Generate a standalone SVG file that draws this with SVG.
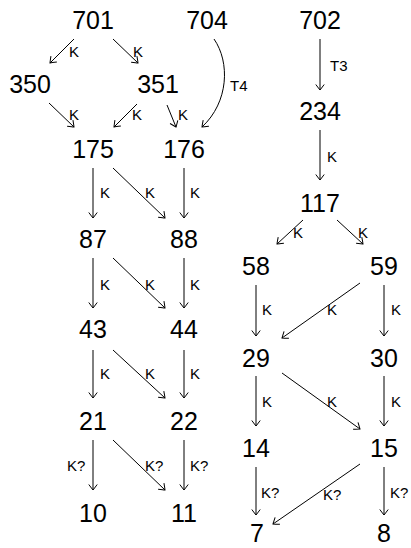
<svg xmlns="http://www.w3.org/2000/svg" width="411" height="548" viewBox="0 0 411 548">
<defs>
<marker id="ah" markerWidth="12" markerHeight="12" refX="0" refY="0" viewBox="-7 -6 9 12" orient="auto" markerUnits="userSpaceOnUse">
<path d="M-5.5,-4.2 Q-1.2,-1 0,0 Q-1.2,1 -5.5,4.2" fill="none" stroke="#000" stroke-width="1"/>
</marker>
<style>
.n{font-family:"Liberation Sans",Arial,sans-serif;font-size:25px;text-anchor:middle;fill:#000}
.l{font-family:"Liberation Sans",Arial,sans-serif;font-size:15px;fill:#000}
.e{fill:none;stroke:#000;stroke-width:1;marker-end:url(#ah)}
</style>
</defs>
<rect width="411" height="548" fill="#fff"/>
<g id="connectors">
<path class="e" d="M74,39 L50,63"/>
<path class="e" d="M113,39 L138,63"/>
<path class="e" d="M49,103 L74,127"/>
<path class="e" d="M137,104 L114,127"/>
<path class="e" d="M167,105 L176,127"/>
<path class="e" d="M214,39 C230,62 229,102 202,127"/>
<path class="e" d="M320,39 L320,90"/>
<path class="e" d="M320,130 L320,180"/>
<path class="e" d="M303,220 L277,244"/>
<path class="e" d="M337,220 L363,244"/>
<path class="e" d="M256,285 L256,336"/>
<path class="e" d="M360,283 L282,338"/>
<path class="e" d="M384,285 L384,336"/>
<path class="e" d="M256,376 L256,426"/>
<path class="e" d="M282,373 L360,429"/>
<path class="e" d="M384,376 L384,426"/>
<path class="e" d="M256,467 L256,515"/>
<path class="e" d="M360,464 L273,524"/>
<path class="e" d="M384,467 L384,515"/>
<path class="e" d="M93,168 L93,218"/>
<path class="e" d="M113,168 L165,218"/>
<path class="e" d="M184,168 L184,218"/>
<path class="e" d="M93,258 L93,308"/>
<path class="e" d="M113,258 L165,308"/>
<path class="e" d="M184,258 L184,308"/>
<path class="e" d="M93,350 L93,398"/>
<path class="e" d="M113,350 L165,398"/>
<path class="e" d="M184,350 L184,398"/>
<path class="e" d="M93,440 L93,490"/>
<path class="e" d="M113,440 L165,490"/>
<path class="e" d="M184,440 L184,490"/>
</g>
<g id="labels">
<text class="l" x="69" y="57">K</text>
<text class="l" x="133" y="57">K</text>
<text class="l" x="69" y="120">K</text>
<text class="l" x="132" y="120">K</text>
<text class="l" x="178" y="120">K</text>
<text class="l" x="230" y="91">T4</text>
<text class="l" x="330" y="71">T3</text>
<text class="l" x="327" y="162">K</text>
<text class="l" x="293" y="238">K</text>
<text class="l" x="358" y="238">K</text>
<text class="l" x="262" y="315">K</text>
<text class="l" x="327" y="315">K</text>
<text class="l" x="391" y="315">K</text>
<text class="l" x="262" y="407">K</text>
<text class="l" x="327" y="407">K</text>
<text class="l" x="391" y="407">K</text>
<text class="l" x="261" y="498">K?</text>
<text class="l" x="323" y="500">K?</text>
<text class="l" x="390" y="498">K?</text>
<text class="l" x="100" y="198">K</text>
<text class="l" x="145" y="198">K</text>
<text class="l" x="190" y="198">K</text>
<text class="l" x="100" y="290">K</text>
<text class="l" x="145" y="290">K</text>
<text class="l" x="190" y="290">K</text>
<text class="l" x="100" y="379">K</text>
<text class="l" x="145" y="379">K</text>
<text class="l" x="190" y="379">K</text>
<text class="l" x="67" y="471">K?</text>
<text class="l" x="145" y="471">K?</text>
<text class="l" x="190" y="471">K?</text>
</g>
<g id="n701"><text class="n" x="93" y="29">701</text></g>
<g id="n704"><text class="n" x="207" y="29">704</text></g>
<g id="n702"><text class="n" x="320" y="29">702</text></g>
<g id="n350"><text class="n" x="30" y="93">350</text></g>
<g id="n351"><text class="n" x="158" y="93">351</text></g>
<g id="n175"><text class="n" x="93" y="158">175</text></g>
<g id="n176"><text class="n" x="184" y="158">176</text></g>
<g id="n234"><text class="n" x="320" y="120">234</text></g>
<g id="n117"><text class="n" x="320" y="212">117</text></g>
<g id="n87"><text class="n" x="93" y="248">87</text></g>
<g id="n88"><text class="n" x="184" y="248">88</text></g>
<g id="n43"><text class="n" x="93" y="338">43</text></g>
<g id="n44"><text class="n" x="184" y="338">44</text></g>
<g id="n21"><text class="n" x="93" y="430">21</text></g>
<g id="n22"><text class="n" x="184" y="430">22</text></g>
<g id="n10"><text class="n" x="93" y="522">10</text></g>
<g id="n11"><text class="n" x="184" y="522">11</text></g>
<g id="n58"><text class="n" x="256" y="275">58</text></g>
<g id="n59"><text class="n" x="384" y="275">59</text></g>
<g id="n29"><text class="n" x="256" y="367">29</text></g>
<g id="n30"><text class="n" x="384" y="367">30</text></g>
<g id="n14"><text class="n" x="256" y="457">14</text></g>
<g id="n15"><text class="n" x="384" y="457">15</text></g>
<g id="n7"><text class="n" x="257" y="542">7</text></g>
<g id="n8"><text class="n" x="384" y="542">8</text></g>
</svg>
